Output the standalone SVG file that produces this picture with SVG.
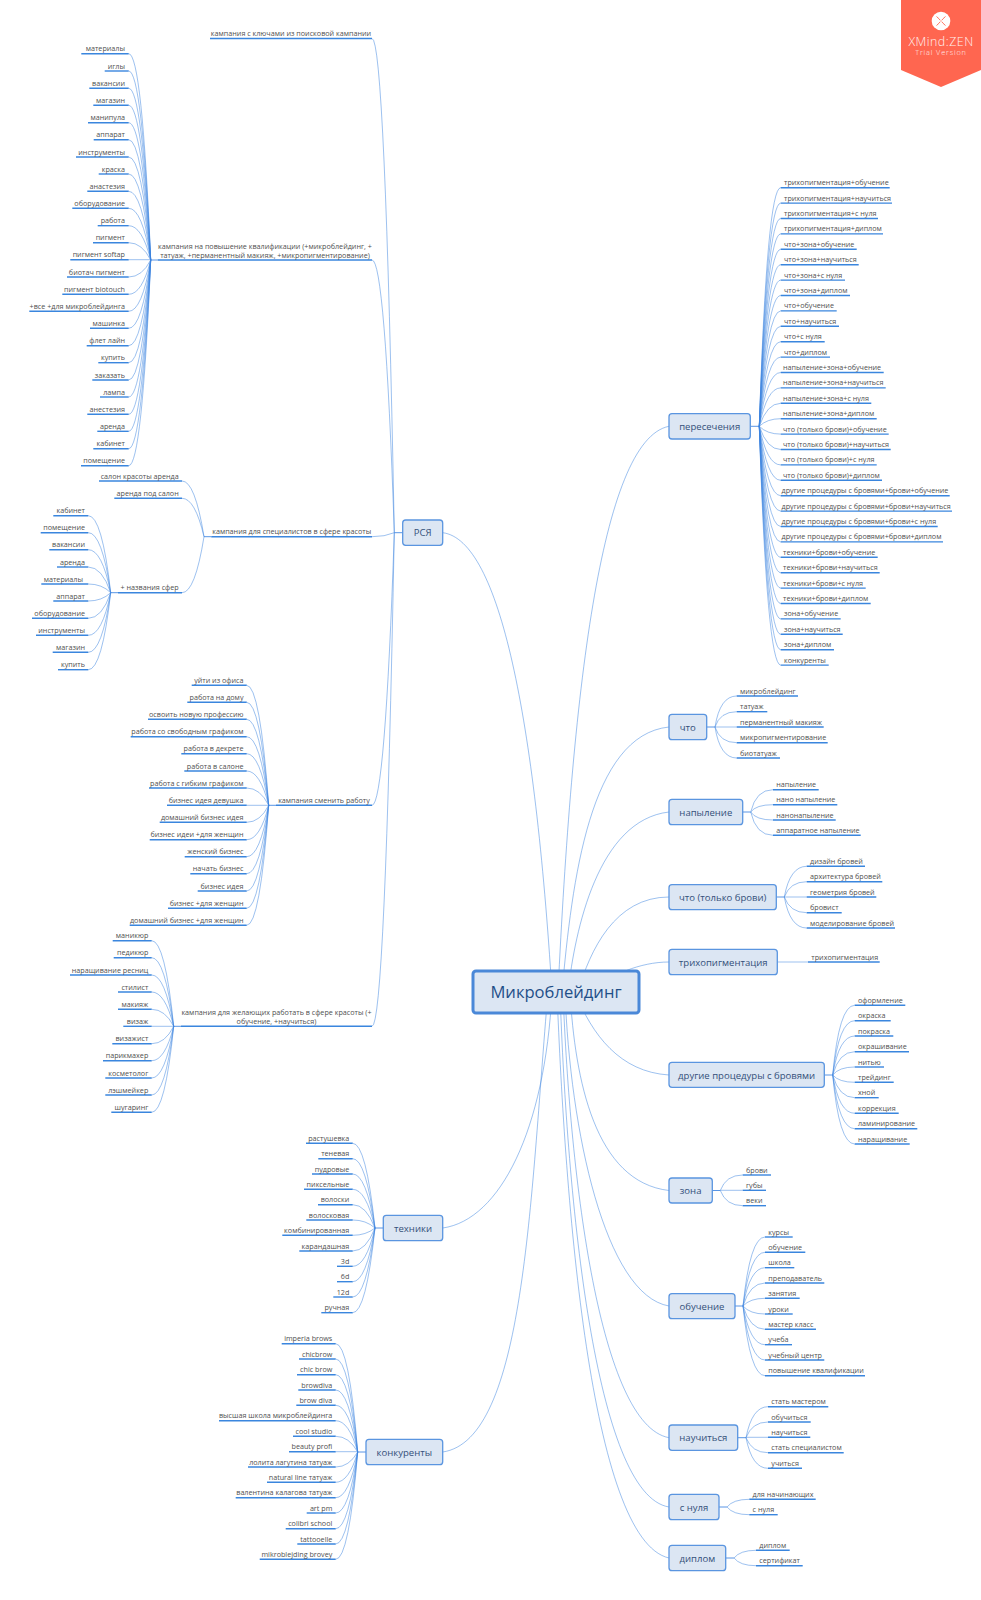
<svg xmlns="http://www.w3.org/2000/svg" width="981" height="1600" viewBox="0 0 981 1600">
<style>
text{font-family:"Open Sans","Noto Sans",sans-serif}
.bg{fill:#fff}
.c path{fill:none;stroke:#3b83e0;stroke-width:1;stroke-opacity:.5}
.c path.s{stroke-opacity:.85}
.u{fill:none;stroke:#3a86de;stroke-width:1.4}
.te,.ts,.tm{font-size:7.2px;fill:#505050}
.te{text-anchor:end}
.ts{text-anchor:start}
.tm{text-anchor:middle}
.m rect{fill:#dce6f3;stroke:#5a95e0;stroke-width:1.3}
.m text{font-size:9.55px;fill:#34507a;text-anchor:middle}
#root rect{fill:#dce6f3;stroke:#4a88d8;stroke-width:3}
#root text{font-size:16.6px;fill:#1f4f88;text-anchor:middle}
#watermark text{fill:#fff;text-anchor:middle;opacity:.92;font-weight:300}
</style>
<rect class="bg" width="981" height="1600"/>
<g id="connectors" class="c">
<path d="M552 992C535 720 500 540 442.7 532.7"/>
<path d="M558 992C572 700 600 440 669 426.3"/>
<path d="M562 992C572 880 590 735 669 727"/>
<path d="M568 992C575 930 598 820 669 812"/>
<path d="M578 992C590 950 615 897 669 897"/>
<path d="M590 992C610 975 640 962 669 962"/>
<path d="M575 992C592 1035 620 1072 669 1075"/>
<path d="M570 992C575 1080 595 1182 669 1190.5"/>
<path d="M565 992C570 1130 605 1295 669 1306"/>
<path d="M563 992C570 1180 600 1425 669 1437.7"/>
<path d="M560 992C567 1200 595 1495 669 1507"/>
<path d="M557 992C565 1200 590 1540 669 1558"/>
<path d="M552 992C545 1130 500 1220 442.7 1228"/>
<path d="M548 992C530 1200 525 1440 442.7 1452"/>

<path class="s" d="M402.7 532.7H394.3"/>
<path d="M372 38.5Q385 38.5 394.3 532.7"/>
<path d="M372 260Q385 260 394.3 532.7"/>
<path d="M372 536.7Q385 536.7 394.3 532.7"/>
<path d="M372 805.3Q385 805.3 394.3 532.7"/>
<path d="M372 1026.3Q385 1026.3 394.3 532.7"/>

<path class="s" d="M157.7 260H150.7"/>
<path d="M128.7 53.7Q142 53.7 150.7 260"/>
<path d="M128.7 71Q142 71 150.7 260"/>
<path d="M128.7 88.3Q142 88.3 150.7 260"/>
<path d="M128.7 105.3Q142 105.3 150.7 260"/>
<path d="M128.7 122.7Q142 122.7 150.7 260"/>
<path d="M128.7 139.7Q142 139.7 150.7 260"/>
<path d="M128.7 157Q142 157 150.7 260"/>
<path d="M128.7 174Q142 174 150.7 260"/>
<path d="M128.7 191.3Q142 191.3 150.7 260"/>
<path d="M128.7 208.3Q142 208.3 150.7 260"/>
<path d="M128.7 225.7Q142 225.7 150.7 260"/>
<path d="M128.7 242.7Q142 242.7 150.7 260"/>
<path d="M128.7 259.7H150.7"/>
<path d="M128.7 277Q142 277 150.7 260"/>
<path d="M128.7 294.3Q142 294.3 150.7 260"/>
<path d="M128.7 311.3Q142 311.3 150.7 260"/>
<path d="M128.7 328.3Q142 328.3 150.7 260"/>
<path d="M128.7 345.7Q142 345.7 150.7 260"/>
<path d="M128.7 362.7Q142 362.7 150.7 260"/>
<path d="M128.7 380Q142 380 150.7 260"/>
<path d="M128.7 397Q142 397 150.7 260"/>
<path d="M128.7 414.3Q142 414.3 150.7 260"/>
<path d="M128.7 431.3Q142 431.3 150.7 260"/>
<path d="M128.7 448.7Q142 448.7 150.7 260"/>
<path d="M128.7 465.7Q142 465.7 150.7 260"/>

<path class="s" d="M211.3 536.7H204"/>
<path d="M182 481Q195 481 204 536.7"/>
<path d="M182 498.3Q195 498.3 204 536.7"/>
<path d="M182 592.7Q195 592.7 204 536.7"/>

<path class="s" d="M118 592.7H110.7"/>
<path d="M88.3 515.7Q102 515.7 110.7 592.7"/>
<path d="M88.3 532.7Q102 532.7 110.7 592.7"/>
<path d="M88.3 549.7Q102 549.7 110.7 592.7"/>
<path d="M88.3 567Q102 567 110.7 592.7"/>
<path d="M88.3 584Q102 584 110.7 592.7"/>
<path d="M88.3 601Q102 601 110.7 592.7"/>
<path d="M88.3 618.3Q102 618.3 110.7 592.7"/>
<path d="M88.3 635.3Q102 635.3 110.7 592.7"/>
<path d="M88.3 652.3Q102 652.3 110.7 592.7"/>
<path d="M88.3 669.7Q102 669.7 110.7 592.7"/>

<path class="s" d="M276 805.3H268.7"/>
<path d="M246.7 685.3Q260 685.3 268.7 805.3"/>
<path d="M246.7 702.3Q260 702.3 268.7 805.3"/>
<path d="M246.7 719.3Q260 719.3 268.7 805.3"/>
<path d="M246.7 736.7Q260 736.7 268.7 805.3"/>
<path d="M246.7 753.7Q260 753.7 268.7 805.3"/>
<path d="M246.7 771Q260 771 268.7 805.3"/>
<path d="M246.7 788Q260 788 268.7 805.3"/>
<path d="M246.7 805.3H268.7"/>
<path d="M246.7 822.3Q260 822.3 268.7 805.3"/>
<path d="M246.7 839.7Q260 839.7 268.7 805.3"/>
<path d="M246.7 856.7Q260 856.7 268.7 805.3"/>
<path d="M246.7 873.7Q260 873.7 268.7 805.3"/>
<path d="M246.7 891Q260 891 268.7 805.3"/>
<path d="M246.7 908.3Q260 908.3 268.7 805.3"/>
<path d="M246.7 925.3Q260 925.3 268.7 805.3"/>

<path class="s" d="M181 1026.3H173.7"/>
<path d="M151.7 940.7Q165 940.7 173.7 1026.3"/>
<path d="M151.7 957.7Q165 957.7 173.7 1026.3"/>
<path d="M151.7 975Q165 975 173.7 1026.3"/>
<path d="M151.7 992Q165 992 173.7 1026.3"/>
<path d="M151.7 1009.3Q165 1009.3 173.7 1026.3"/>
<path d="M151.7 1026.3H173.7"/>
<path d="M151.7 1043.7Q165 1043.7 173.7 1026.3"/>
<path d="M151.7 1060.7Q165 1060.7 173.7 1026.3"/>
<path d="M151.7 1078Q165 1078 173.7 1026.3"/>
<path d="M151.7 1095Q165 1095 173.7 1026.3"/>
<path d="M151.7 1112.3Q165 1112.3 173.7 1026.3"/>

<path class="s" d="M383.3 1228H375"/>
<path d="M352.7 1143.3Q366 1143.3 375 1228"/>
<path d="M352.7 1158.7Q366 1158.7 375 1228"/>
<path d="M352.7 1174Q366 1174 375 1228"/>
<path d="M352.7 1189.3Q366 1189.3 375 1228"/>
<path d="M352.7 1204.7Q366 1204.7 375 1228"/>
<path d="M352.7 1220Q366 1220 375 1228"/>
<path d="M352.7 1235.3Q366 1235.3 375 1228"/>
<path d="M352.7 1251Q366 1251 375 1228"/>
<path d="M352.7 1266.3Q366 1266.3 375 1228"/>
<path d="M352.7 1281.7Q366 1281.7 375 1228"/>
<path d="M352.7 1297Q366 1297 375 1228"/>
<path d="M352.7 1312.7Q366 1312.7 375 1228"/>

<path class="s" d="M366 1452H357.7"/>
<path d="M335.7 1343.7Q349 1343.7 357.7 1452"/>
<path d="M335.7 1359Q349 1359 357.7 1452"/>
<path d="M335.7 1374.7Q349 1374.7 357.7 1452"/>
<path d="M335.7 1390Q349 1390 357.7 1452"/>
<path d="M335.7 1405.3Q349 1405.3 357.7 1452"/>
<path d="M335.7 1420.7Q349 1420.7 357.7 1452"/>
<path d="M335.7 1436.3Q349 1436.3 357.7 1452"/>
<path d="M335.7 1451.7H357.7"/>
<path d="M335.7 1467Q349 1467 357.7 1452"/>
<path d="M335.7 1482.3Q349 1482.3 357.7 1452"/>
<path d="M335.7 1497.7Q349 1497.7 357.7 1452"/>
<path d="M335.7 1513Q349 1513 357.7 1452"/>
<path d="M335.7 1528.7Q349 1528.7 357.7 1452"/>
<path d="M335.7 1544Q349 1544 357.7 1452"/>
<path d="M335.7 1559.3Q349 1559.3 357.7 1452"/>

<path class="s" d="M750.3 426.3H759.3"/>
<path d="M780.7 187.7Q767 187.7 759.3 426.3"/>
<path d="M780.7 203.1Q767 203.1 759.3 426.3"/>
<path d="M780.7 218.5Q767 218.5 759.3 426.3"/>
<path d="M780.7 233.9Q767 233.9 759.3 426.3"/>
<path d="M780.7 249.3Q767 249.3 759.3 426.3"/>
<path d="M780.7 264.7Q767 264.7 759.3 426.3"/>
<path d="M780.7 280.1Q767 280.1 759.3 426.3"/>
<path d="M780.7 295.5Q767 295.5 759.3 426.3"/>
<path d="M780.7 310.9Q767 310.9 759.3 426.3"/>
<path d="M780.7 326.3Q767 326.3 759.3 426.3"/>
<path d="M780.7 341.7Q767 341.7 759.3 426.3"/>
<path d="M780.7 357.1Q767 357.1 759.3 426.3"/>
<path d="M780.7 372.5Q767 372.5 759.3 426.3"/>
<path d="M780.7 387.9Q767 387.9 759.3 426.3"/>
<path d="M780.7 403.3Q767 403.3 759.3 426.3"/>
<path d="M780.7 418.7Q767 418.7 759.3 426.3"/>
<path d="M780.7 434.1Q767 434.1 759.3 426.3"/>
<path d="M780.7 449.5Q767 449.5 759.3 426.3"/>
<path d="M780.7 464.9Q767 464.9 759.3 426.3"/>
<path d="M780.7 480.3Q767 480.3 759.3 426.3"/>
<path d="M780.7 495.7Q767 495.7 759.3 426.3"/>
<path d="M780.7 511.1Q767 511.1 759.3 426.3"/>
<path d="M780.7 526.5Q767 526.5 759.3 426.3"/>
<path d="M780.7 541.9Q767 541.9 759.3 426.3"/>
<path d="M780.7 557.3Q767 557.3 759.3 426.3"/>
<path d="M780.7 572.7Q767 572.7 759.3 426.3"/>
<path d="M780.7 588.1Q767 588.1 759.3 426.3"/>
<path d="M780.7 603.5Q767 603.5 759.3 426.3"/>
<path d="M780.7 618.9Q767 618.9 759.3 426.3"/>
<path d="M780.7 634.3Q767 634.3 759.3 426.3"/>
<path d="M780.7 649.7Q767 649.7 759.3 426.3"/>
<path d="M780.7 665.1Q767 665.1 759.3 426.3"/>

<path class="s" d="M706.7 727H715"/>
<path d="M736.7 696Q720 696 715 727"/>
<path d="M736.7 711.7Q720 711.7 715 727"/>
<path d="M736.7 727H715"/>
<path d="M736.7 742.7Q720 742.7 715 727"/>
<path d="M736.7 758Q720 758 715 727"/>

<path class="s" d="M742.7 812H750.7"/>
<path d="M773 789.7Q756 789.7 750.7 812"/>
<path d="M773 804.7Q756 804.7 750.7 812"/>
<path d="M773 820Q756 820 750.7 812"/>
<path d="M773 835.3Q756 835.3 750.7 812"/>

<path class="s" d="M776.3 897H784.3"/>
<path d="M806.7 866.3Q790 866.3 784.3 897"/>
<path d="M806.7 881.7Q790 881.7 784.3 897"/>
<path d="M806.7 897H784.3"/>
<path d="M806.7 912.7Q790 912.7 784.3 897"/>
<path d="M806.7 928Q790 928 784.3 897"/>

<path d="M777.3 962H808"/>

<path class="s" d="M824.3 1075H832.7"/>
<path d="M854.7 1005.3Q839 1005.3 832.7 1075"/>
<path d="M854.7 1020.7Q839 1020.7 832.7 1075"/>
<path d="M854.7 1036Q839 1036 832.7 1075"/>
<path d="M854.7 1051.7Q839 1051.7 832.7 1075"/>
<path d="M854.7 1067Q839 1067 832.7 1075"/>
<path d="M854.7 1082.3Q839 1082.3 832.7 1075"/>
<path d="M854.7 1097.7Q839 1097.7 832.7 1075"/>
<path d="M854.7 1113.3Q839 1113.3 832.7 1075"/>
<path d="M854.7 1128.7Q839 1128.7 832.7 1075"/>
<path d="M854.7 1144Q839 1144 832.7 1075"/>

<path class="s" d="M712.3 1190.5H720.3"/>
<path d="M742.7 1175Q726 1175 720.3 1190.5"/>
<path d="M742.7 1190.3H720.3"/>
<path d="M742.7 1205.7Q726 1205.7 720.3 1190.5"/>

<path class="s" d="M735 1306H743"/>
<path d="M765 1237Q750 1237 743 1306"/>
<path d="M765 1252.3Q750 1252.3 743 1306"/>
<path d="M765 1267.7Q750 1267.7 743 1306"/>
<path d="M765 1283Q750 1283 743 1306"/>
<path d="M765 1298.3Q750 1298.3 743 1306"/>
<path d="M765 1314Q750 1314 743 1306"/>
<path d="M765 1329.3Q750 1329.3 743 1306"/>
<path d="M765 1344.7Q750 1344.7 743 1306"/>
<path d="M765 1360Q750 1360 743 1306"/>
<path d="M765 1375.7Q750 1375.7 743 1306"/>

<path class="s" d="M737.7 1437.7H746"/>
<path d="M768 1406.7Q752 1406.7 746 1437.7"/>
<path d="M768 1422Q752 1422 746 1437.7"/>
<path d="M768 1437.3H746"/>
<path d="M768 1452.7Q752 1452.7 746 1437.7"/>
<path d="M768 1468.3Q752 1468.3 746 1437.7"/>

<path class="s" d="M719 1507H727"/>
<path d="M749.3 1499.3Q733 1499.3 727 1507"/>
<path d="M749.3 1514.7Q733 1514.7 727 1507"/>

<path class="s" d="M725.7 1558H734"/>
<path d="M756 1550.3Q740 1550.3 734 1558"/>
<path d="M756 1565.7Q740 1565.7 734 1558"/>
</g>

<g id="root"><rect x="473" y="971" width="166" height="42" rx="3"/><text x="556" y="998">Микроблейдинг</text></g>

<g id="m-rsa" class="m"><rect x="402.7" y="520" width="40" height="25.3" rx="3"/><text x="422.7" y="536.2">РСЯ</text></g>
<g id="m-tech" class="m"><rect x="383.3" y="1215.3" width="59.4" height="25.4" rx="3"/><text x="413" y="1231.5">техники</text></g>
<g id="m-konk" class="m"><rect x="366" y="1439.3" width="76.7" height="25.4" rx="3"/><text x="404.3" y="1455.5">конкуренты</text></g>
<g id="m-pere" class="m"><rect x="669" y="413.7" width="81.3" height="25.3" rx="3"/><text x="709.7" y="429.8">пересечения</text></g>
<g id="m-chto" class="m"><rect x="669" y="714.3" width="37.7" height="25.4" rx="3"/><text x="687.8" y="730.5">что</text></g>
<g id="m-napyl" class="m"><rect x="669" y="799.3" width="73.7" height="25.4" rx="3"/><text x="705.8" y="815.5">напыление</text></g>
<g id="m-chto2" class="m"><rect x="669" y="884.7" width="107.3" height="25" rx="3"/><text x="722.7" y="900.5">что (только брови)</text></g>
<g id="m-triho" class="m"><rect x="669" y="949.3" width="108.3" height="25.4" rx="3"/><text x="723.2" y="965.5">трихопигментация</text></g>
<g id="m-drugie" class="m"><rect x="669" y="1062.3" width="155.3" height="25" rx="3"/><text x="746.6" y="1078.5">другие процедуры с бровями</text></g>
<g id="m-zona" class="m"><rect x="669" y="1178" width="43.3" height="25" rx="3"/><text x="690.6" y="1194">зона</text></g>
<g id="m-obuch" class="m"><rect x="669" y="1293.7" width="66" height="25" rx="3"/><text x="702" y="1309.5">обучение</text></g>
<g id="m-nauch" class="m"><rect x="669" y="1425" width="68.7" height="25.3" rx="3"/><text x="703.3" y="1441.2">научиться</text></g>
<g id="m-snulya" class="m"><rect x="669" y="1494.3" width="50" height="25.4" rx="3"/><text x="694" y="1510.5">с нуля</text></g>
<g id="m-diplom" class="m"><rect x="669" y="1545.3" width="56.7" height="25.4" rx="3"/><text x="697.3" y="1561.5">диплом</text></g>

<g id="camp1"><path class="u" d="M210 38.5H372"/><text class="tm" x="291" y="36">кампания с ключами из поисковой кампании</text></g>
<g id="camp2"><path class="u" d="M157.7 260H372"/><text class="tm" x="265" y="248.5">кампания на повышение квалификации (+микроблейдинг, +</text><text class="tm" x="265" y="257.5">татуаж, +перманентный макияж, +микропигментирование)</text></g>
<g id="camp3"><path class="u" d="M211.3 536.7H372"/><text class="tm" x="291.7" y="534.2">кампания для специалистов в сфере красоты</text></g>
<g id="camp4"><path class="u" d="M276 805.3H372"/><text class="tm" x="324" y="802.8">кампания сменить работу</text></g>
<g id="camp5"><path class="u" d="M181 1026.3H372"/><text class="tm" x="276.5" y="1015">кампания для желающих работать в сфере красоты (+</text><text class="tm" x="276.5" y="1024">обучение, +научиться)</text></g>

<g id="a1"><path class="u" d="M81.3 53.7H128.7"/><text class="te" x="125" y="51.2">материалы</text></g>
<g id="a2"><path class="u" d="M104.7 71H128.7"/><text class="te" x="125" y="68.5">иглы</text></g>
<g id="a3"><path class="u" d="M89.3 88.3H128.7"/><text class="te" x="125" y="85.8">вакансии</text></g>
<g id="a4"><path class="u" d="M93.3 105.3H128.7"/><text class="te" x="125" y="102.8">магазин</text></g>
<g id="a5"><path class="u" d="M88 122.7H128.7"/><text class="te" x="125" y="120.2">манипула</text></g>
<g id="a6"><path class="u" d="M93.7 139.7H128.7"/><text class="te" x="125" y="137.2">аппарат</text></g>
<g id="a7"><path class="u" d="M76 157H128.7"/><text class="te" x="125" y="154.5">инструменты</text></g>
<g id="a8"><path class="u" d="M98.7 174H128.7"/><text class="te" x="125" y="171.5">краска</text></g>
<g id="a9"><path class="u" d="M87.3 191.3H128.7"/><text class="te" x="125" y="188.8">анастезия</text></g>
<g id="a10"><path class="u" d="M72.3 208.3H128.7"/><text class="te" x="125" y="205.8">оборудование</text></g>
<g id="a11"><path class="u" d="M97.7 225.7H128.7"/><text class="te" x="125" y="223.2">работа</text></g>
<g id="a12"><path class="u" d="M93 242.7H128.7"/><text class="te" x="125" y="240.2">пигмент</text></g>
<g id="a13"><path class="u" d="M70.3 259.7H128.7"/><text class="te" x="125" y="257.2">пигмент softap</text></g>
<g id="a14"><path class="u" d="M67 277H128.7"/><text class="te" x="125" y="274.5">биотач пигмент</text></g>
<g id="a15"><path class="u" d="M62.3 294.3H128.7"/><text class="te" x="125" y="291.8">пигмент biotouch</text></g>
<g id="a16"><path class="u" d="M29.3 311.3H128.7"/><text class="te" x="125" y="308.8">+все +для микроблейдинга</text></g>
<g id="a17"><path class="u" d="M90 328.3H128.7"/><text class="te" x="125" y="325.8">машинка</text></g>
<g id="a18"><path class="u" d="M86.7 345.7H128.7"/><text class="te" x="125" y="343.2">флет лайн</text></g>
<g id="a19"><path class="u" d="M98.3 362.7H128.7"/><text class="te" x="125" y="360.2">купить</text></g>
<g id="a20"><path class="u" d="M92.3 380H128.7"/><text class="te" x="125" y="377.5">заказать</text></g>
<g id="a21"><path class="u" d="M100 397H128.7"/><text class="te" x="125" y="394.5">лампа</text></g>
<g id="a22"><path class="u" d="M87.3 414.3H128.7"/><text class="te" x="125" y="411.8">анестезия</text></g>
<g id="a23"><path class="u" d="M97.3 431.3H128.7"/><text class="te" x="125" y="428.8">аренда</text></g>
<g id="a24"><path class="u" d="M93.3 448.7H128.7"/><text class="te" x="125" y="446.2">кабинет</text></g>
<g id="a25"><path class="u" d="M81 465.7H128.7"/><text class="te" x="125" y="463.2">помещение</text></g>

<g id="b1"><path class="u" d="M99 481H182"/><text class="te" x="178.7" y="478.5">салон красоты аренда</text></g>
<g id="b2"><path class="u" d="M114.3 498.3H182"/><text class="te" x="178.7" y="495.8">аренда под салон</text></g>
<g id="b3"><path class="u" d="M118 592.7H182"/><text class="te" x="178.7" y="590.2">+ названия сфер</text></g>

<g id="c1"><path class="u" d="M53.3 515.7H88.3"/><text class="te" x="85" y="513.2">кабинет</text></g>
<g id="c2"><path class="u" d="M40.7 532.7H88.3"/><text class="te" x="85" y="530.2">помещение</text></g>
<g id="c3"><path class="u" d="M49.3 549.7H88.3"/><text class="te" x="85" y="547.2">вакансии</text></g>
<g id="c4"><path class="u" d="M57 567H88.3"/><text class="te" x="85" y="564.5">аренда</text></g>
<g id="c5"><path class="u" d="M41.3 584H88.3"/><text class="te" x="83" y="581.5">материалы</text></g>
<g id="c6"><path class="u" d="M53.3 601H88.3"/><text class="te" x="85" y="598.5">аппарат</text></g>
<g id="c7"><path class="u" d="M32 618.3H88.3"/><text class="te" x="85" y="615.8">оборудование</text></g>
<g id="c8"><path class="u" d="M36 635.3H88.3"/><text class="te" x="85" y="632.8">инструменты</text></g>
<g id="c9"><path class="u" d="M52.7 652.3H88.3"/><text class="te" x="85" y="649.8">магазин</text></g>
<g id="c10"><path class="u" d="M58 669.7H88.3"/><text class="te" x="85" y="667.2">купить</text></g>

<g id="d1"><path class="u" d="M191.7 685.3H246.7"/><text class="te" x="243.5" y="682.8">уйти из офиса</text></g>
<g id="d2"><path class="u" d="M187.3 702.3H246.7"/><text class="te" x="243.5" y="699.8">работа на дому</text></g>
<g id="d3"><path class="u" d="M148 719.3H246.7"/><text class="te" x="243.5" y="716.8">освоить новую профессию</text></g>
<g id="d4"><path class="u" d="M130.7 736.7H246.7"/><text class="te" x="243.5" y="734.2">работа со свободным графиком</text></g>
<g id="d5"><path class="u" d="M181.3 753.7H246.7"/><text class="te" x="243.5" y="751.2">работа в декрете</text></g>
<g id="d6"><path class="u" d="M184.3 771H246.7"/><text class="te" x="243.5" y="768.5">работа в салоне</text></g>
<g id="d7"><path class="u" d="M149 788H246.7"/><text class="te" x="243.5" y="785.5">работа с гибким графиком</text></g>
<g id="d8"><path class="u" d="M167 805.3H246.7"/><text class="te" x="243.5" y="802.8">бизнес идея девушка</text></g>
<g id="d9"><path class="u" d="M159.7 822.3H246.7"/><text class="te" x="243.5" y="819.8">домашний бизнес идея</text></g>
<g id="d10"><path class="u" d="M149.7 839.7H246.7"/><text class="te" x="243.5" y="837.2">бизнес идеи +для женщин</text></g>
<g id="d11"><path class="u" d="M184.7 856.7H246.7"/><text class="te" x="243.5" y="854.2">женский бизнес</text></g>
<g id="d12"><path class="u" d="M190.3 873.7H246.7"/><text class="te" x="243.5" y="871.2">начать бизнес</text></g>
<g id="d13"><path class="u" d="M197.7 891H246.7"/><text class="te" x="243.5" y="888.5">бизнес идея</text></g>
<g id="d14"><path class="u" d="M168 908.3H246.7"/><text class="te" x="243.5" y="905.8">бизнес +для женщин</text></g>
<g id="d15"><path class="u" d="M129.7 925.3H246.7"/><text class="te" x="243.5" y="922.8">домашний бизнес +для женщин</text></g>

<g id="e1"><path class="u" d="M112.7 940.7H151.7"/><text class="te" x="148.3" y="938.2">маникюр</text></g>
<g id="e2"><path class="u" d="M113.7 957.7H151.7"/><text class="te" x="148.3" y="955.2">педикюр</text></g>
<g id="e3"><path class="u" d="M70 975H151.7"/><text class="te" x="148.3" y="972.5">наращивание ресниц</text></g>
<g id="e4"><path class="u" d="M118 992H151.7"/><text class="te" x="148.3" y="989.5">стилист</text></g>
<g id="e5"><path class="u" d="M118 1009.3H151.7"/><text class="te" x="148.3" y="1006.8">макияж</text></g>
<g id="e6"><path class="u" d="M123.3 1026.3H151.7"/><text class="te" x="148.3" y="1023.8">визаж</text></g>
<g id="e7"><path class="u" d="M112.3 1043.7H151.7"/><text class="te" x="148.3" y="1041.2">визажист</text></g>
<g id="e8"><path class="u" d="M103 1060.7H151.7"/><text class="te" x="148.3" y="1058.2">парикмахер</text></g>
<g id="e9"><path class="u" d="M105.3 1078H151.7"/><text class="te" x="148.3" y="1075.5">косметолог</text></g>
<g id="e10"><path class="u" d="M105.3 1095H151.7"/><text class="te" x="148.3" y="1092.5">лэшмейкер</text></g>
<g id="e11"><path class="u" d="M111.3 1112.3H151.7"/><text class="te" x="148.3" y="1109.8">шугаринг</text></g>

<g id="f1"><path class="u" d="M306 1143.3H352.7"/><text class="te" x="349.3" y="1140.8">растушевка</text></g>
<g id="f2"><path class="u" d="M318.3 1158.7H352.7"/><text class="te" x="349.3" y="1156.2">теневая</text></g>
<g id="f3"><path class="u" d="M312 1174H352.7"/><text class="te" x="349.3" y="1171.5">пудровые</text></g>
<g id="f4"><path class="u" d="M304 1189.3H352.7"/><text class="te" x="349.3" y="1186.8">пиксельные</text></g>
<g id="f5"><path class="u" d="M318 1204.7H352.7"/><text class="te" x="349.3" y="1202.2">волоски</text></g>
<g id="f6"><path class="u" d="M306.3 1220H352.7"/><text class="te" x="349.3" y="1217.5">волосковая</text></g>
<g id="f7"><path class="u" d="M282.3 1235.3H352.7"/><text class="te" x="349.3" y="1232.8">комбинированная</text></g>
<g id="f8"><path class="u" d="M299.3 1251H352.7"/><text class="te" x="349.3" y="1248.5">карандашная</text></g>
<g id="f9"><path class="u" d="M337 1266.3H352.7"/><text class="te" x="349.3" y="1263.8">3d</text></g>
<g id="f10"><path class="u" d="M337 1281.7H352.7"/><text class="te" x="349.3" y="1279.2">6d</text></g>
<g id="f11"><path class="u" d="M333.3 1297H352.7"/><text class="te" x="349.3" y="1294.5">12d</text></g>
<g id="f12"><path class="u" d="M321.3 1312.7H352.7"/><text class="te" x="349.3" y="1310.2">ручная</text></g>

<g id="g1"><path class="u" d="M281.7 1343.7H335.7"/><text class="te" x="332.3" y="1341.2">imperia brows</text></g>
<g id="g2"><path class="u" d="M299 1359H335.7"/><text class="te" x="332.3" y="1356.5">chicbrow</text></g>
<g id="g3"><path class="u" d="M297 1374.7H335.7"/><text class="te" x="332.3" y="1372.2">chic brow</text></g>
<g id="g4"><path class="u" d="M298.3 1390H335.7"/><text class="te" x="332.3" y="1387.5">browdiva</text></g>
<g id="g5"><path class="u" d="M296.3 1405.3H335.7"/><text class="te" x="332.3" y="1402.8">brow diva</text></g>
<g id="g6"><path class="u" d="M219 1420.7H335.7"/><text class="te" x="332.3" y="1418.2">высшая школа микроблейдинга</text></g>
<g id="g7"><path class="u" d="M293 1436.3H335.7"/><text class="te" x="332.3" y="1433.8">cool studio</text></g>
<g id="g8"><path class="u" d="M289 1451.7H335.7"/><text class="te" x="332.3" y="1449.2">beauty profi</text></g>
<g id="g9"><path class="u" d="M248 1467H335.7"/><text class="te" x="332.3" y="1464.5">лолита лагутина татуаж</text></g>
<g id="g10"><path class="u" d="M267 1482.3H335.7"/><text class="te" x="332.3" y="1479.8">natural line татуаж</text></g>
<g id="g11"><path class="u" d="M235.7 1497.7H335.7"/><text class="te" x="332.3" y="1495.2">валентина калагова татуаж</text></g>
<g id="g12"><path class="u" d="M306.7 1513H335.7"/><text class="te" x="332.3" y="1510.5">art pm</text></g>
<g id="g13"><path class="u" d="M285.7 1528.7H335.7"/><text class="te" x="332.3" y="1526.2">colibri school</text></g>
<g id="g14"><path class="u" d="M297.3 1544H335.7"/><text class="te" x="332.3" y="1541.5">tattooelle</text></g>
<g id="g15"><path class="u" d="M259.7 1559.3H335.7"/><text class="te" x="332.3" y="1556.8">mikroblejding brovey</text></g>

<g id="p1"><path class="u" d="M780.7 187.7H889.7"/><text class="ts" x="784" y="185.2">трихопигментация+обучение</text></g>
<g id="p2"><path class="u" d="M780.7 203.1H892"/><text class="ts" x="784" y="200.6">трихопигментация+научиться</text></g>
<g id="p3"><path class="u" d="M780.7 218.5H878"/><text class="ts" x="784" y="216">трихопигментация+с нуля</text></g>
<g id="p4"><path class="u" d="M780.7 233.9H883"/><text class="ts" x="784" y="231.4">трихопигментация+диплом</text></g>
<g id="p5"><path class="u" d="M780.7 249.3H856.7"/><text class="ts" x="784" y="246.8">что+зона+обучение</text></g>
<g id="p6"><path class="u" d="M780.7 264.7H858.7"/><text class="ts" x="784" y="262.2">что+зона+научиться</text></g>
<g id="p7"><path class="u" d="M780.7 280.1H845"/><text class="ts" x="784" y="277.6">что+зона+с нуля</text></g>
<g id="p8"><path class="u" d="M780.7 295.5H850"/><text class="ts" x="784" y="293">что+зона+диплом</text></g>
<g id="p9"><path class="u" d="M780.7 310.9H836.7"/><text class="ts" x="784" y="308.4">что+обучение</text></g>
<g id="p10"><path class="u" d="M780.7 326.3H839"/><text class="ts" x="784" y="323.8">что+научиться</text></g>
<g id="p11"><path class="u" d="M780.7 341.7H824.7"/><text class="ts" x="784" y="339.2">что+с нуля</text></g>
<g id="p12"><path class="u" d="M780.7 357.1H830"/><text class="ts" x="784" y="354.6">что+диплом</text></g>
<g id="p13"><path class="u" d="M780.7 372.5H883.7"/><text class="ts" x="783" y="370">напыление+зона+обучение</text></g>
<g id="p14"><path class="u" d="M780.7 387.9H885.7"/><text class="ts" x="783" y="385.4">напыление+зона+научиться</text></g>
<g id="p15"><path class="u" d="M780.7 403.3H871.3"/><text class="ts" x="783" y="400.8">напыление+зона+с нуля</text></g>
<g id="p16"><path class="u" d="M780.7 418.7H876.7"/><text class="ts" x="783" y="416.2">напыление+зона+диплом</text></g>
<g id="p17"><path class="u" d="M780.7 434.1H888.7"/><text class="ts" x="783" y="431.6">что (только брови)+обучение</text></g>
<g id="p18"><path class="u" d="M780.7 449.5H890.7"/><text class="ts" x="783" y="447">что (только брови)+научиться</text></g>
<g id="p19"><path class="u" d="M780.7 464.9H876.7"/><text class="ts" x="783" y="462.4">что (только брови)+с нуля</text></g>
<g id="p20"><path class="u" d="M780.7 480.3H882"/><text class="ts" x="783" y="477.8">что (только брови)+диплом</text></g>
<g id="p21"><path class="u" d="M780.7 495.7H949.7"/><text class="ts" x="781.5" y="493.2">другие процедуры с бровями+брови+обучение</text></g>
<g id="p22"><path class="u" d="M780.7 511.1H952"/><text class="ts" x="781.5" y="508.6">другие процедуры с бровями+брови+научиться</text></g>
<g id="p23"><path class="u" d="M780.7 526.5H937.7"/><text class="ts" x="781.5" y="524">другие процедуры с бровями+брови+с нуля</text></g>
<g id="p24"><path class="u" d="M780.7 541.9H943"/><text class="ts" x="781.5" y="539.4">другие процедуры с бровями+брови+диплом</text></g>
<g id="p25"><path class="u" d="M780.7 557.3H877.7"/><text class="ts" x="783" y="554.8">техники+брови+обучение</text></g>
<g id="p26"><path class="u" d="M780.7 572.7H879.7"/><text class="ts" x="783" y="570.2">техники+брови+научиться</text></g>
<g id="p27"><path class="u" d="M780.7 588.1H865.7"/><text class="ts" x="783" y="585.6">техники+брови+с нуля</text></g>
<g id="p28"><path class="u" d="M780.7 603.5H870.7"/><text class="ts" x="783" y="601">техники+брови+диплом</text></g>
<g id="p29"><path class="u" d="M780.7 618.9H840.7"/><text class="ts" x="784" y="616.4">зона+обучение</text></g>
<g id="p30"><path class="u" d="M780.7 634.3H842.7"/><text class="ts" x="784" y="631.8">зона+научиться</text></g>
<g id="p31"><path class="u" d="M780.7 649.7H834"/><text class="ts" x="784" y="647.2">зона+диплом</text></g>
<g id="p32"><path class="u" d="M780.7 665.1H828.7"/><text class="ts" x="784" y="662.6">конкуренты</text></g>

<g id="q1"><path class="u" d="M736.7 696H798"/><text class="ts" x="740" y="693.5">микроблейдинг</text></g>
<g id="q2"><path class="u" d="M736.7 711.7H767.3"/><text class="ts" x="740" y="709.2">татуаж</text></g>
<g id="q3"><path class="u" d="M736.7 727H823.7"/><text class="ts" x="740" y="724.5">перманентный макияж</text></g>
<g id="q4"><path class="u" d="M736.7 742.7H827.7"/><text class="ts" x="740" y="740.2">микропигментирование</text></g>
<g id="q5"><path class="u" d="M736.7 758H780"/><text class="ts" x="740" y="755.5">биотатуаж</text></g>

<g id="r1"><path class="u" d="M773 789.7H818.7"/><text class="ts" x="776.3" y="787.2">напыление</text></g>
<g id="r2"><path class="u" d="M773 804.7H837.3"/><text class="ts" x="776.3" y="802.2">нано напыление</text></g>
<g id="r3"><path class="u" d="M773 820H835.7"/><text class="ts" x="776.3" y="817.5">нанонапыление</text></g>
<g id="r4"><path class="u" d="M773 835.3H860.7"/><text class="ts" x="776.3" y="832.8">аппаратное напыление</text></g>

<g id="s1"><path class="u" d="M806.7 866.3H865"/><text class="ts" x="810" y="863.8">дизайн бровей</text></g>
<g id="s2"><path class="u" d="M806.7 881.7H882.3"/><text class="ts" x="810" y="879.2">архитектура бровей</text></g>
<g id="s3"><path class="u" d="M806.7 897H876.3"/><text class="ts" x="810" y="894.5">геометрия бровей</text></g>
<g id="s4"><path class="u" d="M806.7 912.7H841.7"/><text class="ts" x="810" y="910.2">бровист</text></g>
<g id="s5"><path class="u" d="M806.7 928H895"/><text class="ts" x="810" y="925.5">моделирование бровей</text></g>

<g id="t1"><path class="u" d="M808 962H879.7"/><text class="ts" x="811.3" y="959.5">трихопигментация</text></g>

<g id="v1"><path class="u" d="M854.7 1005.3H905.3"/><text class="ts" x="858" y="1002.8">оформление</text></g>
<g id="v2"><path class="u" d="M854.7 1020.7H890.7"/><text class="ts" x="858" y="1018.2">окраска</text></g>
<g id="v3"><path class="u" d="M854.7 1036H893.3"/><text class="ts" x="858" y="1033.5">покраска</text></g>
<g id="v4"><path class="u" d="M854.7 1051.7H909"/><text class="ts" x="858" y="1049.2">окрашивание</text></g>
<g id="v5"><path class="u" d="M854.7 1067H884"/><text class="ts" x="858" y="1064.5">нитью</text></g>
<g id="v6"><path class="u" d="M854.7 1082.3H893.7"/><text class="ts" x="858" y="1079.8">трейдинг</text></g>
<g id="v7"><path class="u" d="M854.7 1097.7H878.7"/><text class="ts" x="858" y="1095.2">хной</text></g>
<g id="v8"><path class="u" d="M854.7 1113.3H898.7"/><text class="ts" x="858" y="1110.8">коррекция</text></g>
<g id="v9"><path class="u" d="M854.7 1128.7H917.3"/><text class="ts" x="858" y="1126.2">ламинирование</text></g>
<g id="v10"><path class="u" d="M854.7 1144H909.7"/><text class="ts" x="858" y="1141.5">наращивание</text></g>

<g id="w1"><path class="u" d="M742.7 1175H771"/><text class="ts" x="746" y="1172.5">брови</text></g>
<g id="w2"><path class="u" d="M742.7 1190.3H766"/><text class="ts" x="746" y="1187.8">губы</text></g>
<g id="w3"><path class="u" d="M742.7 1205.7H766"/><text class="ts" x="746" y="1203.2">веки</text></g>

<g id="x1"><path class="u" d="M765 1237H792.7"/><text class="ts" x="768.3" y="1234.5">курсы</text></g>
<g id="x2"><path class="u" d="M765 1252.3H805.3"/><text class="ts" x="768.3" y="1249.8">обучение</text></g>
<g id="x3"><path class="u" d="M765 1267.7H794.3"/><text class="ts" x="768.3" y="1265.2">школа</text></g>
<g id="x4"><path class="u" d="M765 1283H824.3"/><text class="ts" x="768.3" y="1280.5">преподаватель</text></g>
<g id="x5"><path class="u" d="M765 1298.3H799.7"/><text class="ts" x="768.3" y="1295.8">занятия</text></g>
<g id="x6"><path class="u" d="M765 1314H792.7"/><text class="ts" x="768.3" y="1311.5">уроки</text></g>
<g id="x7"><path class="u" d="M765 1329.3H816"/><text class="ts" x="768.3" y="1326.8">мастер класс</text></g>
<g id="x8"><path class="u" d="M765 1344.7H792"/><text class="ts" x="768.3" y="1342.2">учеба</text></g>
<g id="x9"><path class="u" d="M765 1360H824.3"/><text class="ts" x="768.3" y="1357.5">учебный центр</text></g>
<g id="x10"><path class="u" d="M765 1375.7H865"/><text class="ts" x="768.3" y="1373.2">повышение квалификации</text></g>

<g id="y1"><path class="u" d="M768 1406.7H828.3"/><text class="ts" x="771.3" y="1404.2">стать мастером</text></g>
<g id="y2"><path class="u" d="M768 1422H810.7"/><text class="ts" x="771.3" y="1419.5">обучиться</text></g>
<g id="y3"><path class="u" d="M768 1437.3H810.3"/><text class="ts" x="771.3" y="1434.8">научиться</text></g>
<g id="y4"><path class="u" d="M768 1452.7H843.7"/><text class="ts" x="771.3" y="1450.2">стать специалистом</text></g>
<g id="y5"><path class="u" d="M768 1468.3H802"/><text class="ts" x="771.3" y="1465.8">учиться</text></g>

<g id="z1"><path class="u" d="M749.3 1499.3H815.7"/><text class="ts" x="752.6" y="1496.8">для начинающих</text></g>
<g id="z2"><path class="u" d="M749.3 1514.7H777.7"/><text class="ts" x="752.6" y="1512.2">с нуля</text></g>
<g id="z3"><path class="u" d="M756 1550.3H789.7"/><text class="ts" x="759.3" y="1547.8">диплом</text></g>
<g id="z4"><path class="u" d="M756 1565.7H802.7"/><text class="ts" x="759.3" y="1563.2">сертификат</text></g>

<g id="watermark">
<path d="M901 0H981V70L941 87L901 70Z" fill="#ff6650"/>
<circle cx="941" cy="21" r="9.3" fill="#fff"/>
<path d="M936.5 16.5Q939.5 19 940.3 20.4M945.5 16.5Q942.5 19 941.7 20.4M936.5 25.5Q939.5 23 940.3 21.6M945.5 25.5Q942.5 23 941.7 21.6" fill="none" stroke="#ff6650" stroke-width=".9"/>
<text x="941" y="45.5" font-size="12.4px" letter-spacing=".5">XMind:ZEN</text>
<text x="941" y="55" font-size="7.3px" letter-spacing=".85">Trial Version</text>
</g>
</svg>
